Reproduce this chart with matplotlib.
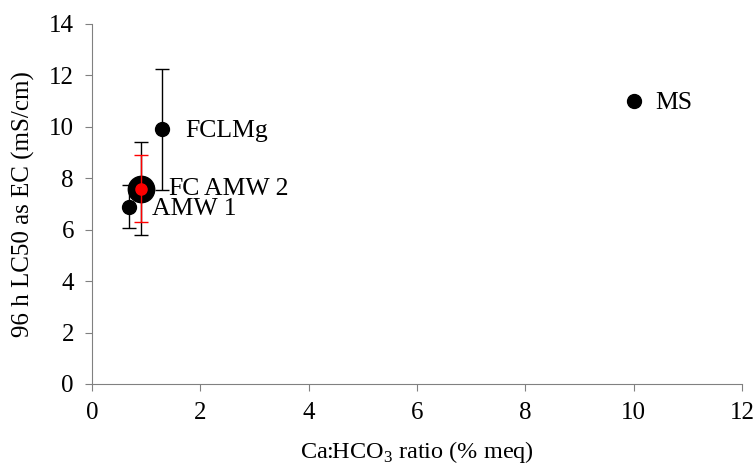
import matplotlib.pyplot as plt

plt.rcParams['font.family'] = ['Liberation Serif', 'DejaVu Serif']
plt.rcParams['mathtext.fontset'] = 'custom'
plt.rcParams['mathtext.rm'] = 'Liberation Serif'

# black series
ratio = [0.68, 0.9, 1.3, 10.0]
lc50 = [6.9, 7.6, 9.9, 11.0]
err = [0.85, 1.8, 2.35, 0.0]
sizes = [10, 19, 10, 10]
label_text = ["AMW 1", "FC", "FCLMg", "MS"]
label_x = [1.1, 1.4, 1.72, 10.39]
label_y = [6.8, 7.59, 9.84, 10.93]

# red series (AMW 2)
red_ratio = [0.9]
red_lc50 = [7.6]
red_err = [1.3]

fig = plt.figure(figsize=(7.56, 4.70), dpi=100)
ax = fig.add_axes([0.1217, 0.183, 0.8598, 0.766])

for x, y, e, s in zip(ratio, lc50, err, sizes):
    if e > 0:
        ax.errorbar(x, y, yerr=e, fmt='none', ecolor='black', elinewidth=1, capsize=5, capthick=1)
    ax.plot(x, y, 'o', color='black', markersize=s)

ax.errorbar(red_ratio, red_lc50, yerr=red_err, fmt='none', ecolor='red', elinewidth=1, capsize=5, capthick=1)
ax.plot(red_ratio, red_lc50, 'o', color='red', markersize=8)

for t, x, y in zip(label_text, label_x, label_y):
    ax.text(x, y, t, fontsize=18.5, va='center', ha='left')
ax.text(2.07, 7.59, "AMW 2", fontsize=18.5, va='center', ha='left')

ax.set_xlim(0, 12)
ax.set_ylim(0, 14)
ax.set_xticks(range(0, 13, 2))
ax.set_yticks(range(0, 15, 2))
ax.spines['top'].set_visible(False)
ax.spines['right'].set_visible(False)
for sp in ['left', 'bottom']:
    ax.spines[sp].set_color('#808080')
ax.tick_params(direction='out', length=5, color='#808080', labelsize=18, pad=8)
ax.set_xlabel("Ca:HCO$_3$ ratio (% meq)", fontsize=17.5, labelpad=11)
ax.set_ylabel("96 h LC50 as EC (mS/cm)", fontsize=18, labelpad=10)

fig.savefig("out.png", dpi=100)
